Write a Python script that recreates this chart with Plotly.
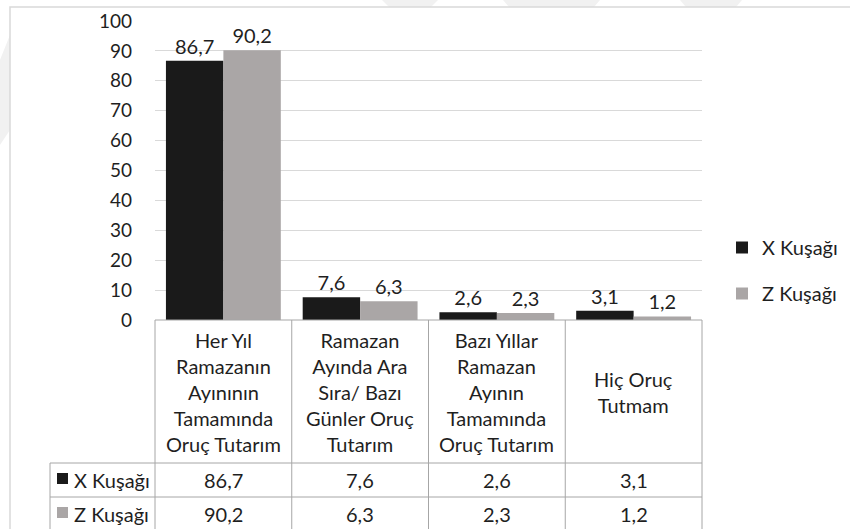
import plotly.graph_objects as go

# ---- data ----
categories = [
    "Her Yıl Ramazanın Ayınının Tamamında Oruç Tutarım",
    "Ramazan Ayında Ara Sıra/ Bazı Günler Oruç Tutarım",
    "Bazı Yıllar Ramazan Ayının Tamamında Oruç Tutarım",
    "Hiç Oruç Tutmam",
]
category_lines = [
    ["Her Yıl", "Ramazanın", "Ayınının", "Tamamında", "Oruç Tutarım"],
    ["Ramazan", "Ayında Ara", "Sıra/ Bazı", "Günler Oruç", "Tutarım"],
    ["Bazı Yıllar", "Ramazan", "Ayının", "Tamamında", "Oruç Tutarım"],
    ["Hiç Oruç", "Tutmam"],
]
series_names = ["X Kuşağı", "Z Kuşağı"]
x_kusagi = [86.7, 7.6, 2.6, 3.1]
z_kusagi = [90.2, 6.3, 2.3, 1.2]
y_ticks = [0, 10, 20, 30, 40, 50, 60, 70, 80, 90, 100]

# ---- style ----
FONT = "Lato"
TXT = "#1f1f1f"
COLORS = ["#1a1a1a", "#aaa6a6"]
GRID = "#d9d9d9"
TABLE_LINE = "#a6a6a6"
FS = 19
TFS = 20

W, H = 850, 529
L, R, T, B = 155, 148, 21, 209
plot_h = H - T - B
plot_w = W - L - R


def py(pix):  # pixel row -> paper y
    return (H - B - pix) / plot_h


def px(pix):  # pixel column -> paper x
    return (pix - L) / plot_w


fig = go.Figure()
for name, vals, col in zip(series_names, [x_kusagi, z_kusagi], COLORS):
    fig.add_trace(go.Bar(
        x=categories, y=vals, name=name, marker=dict(color=col, line=dict(width=0)),
        texttemplate="%{y:.1f}", textposition="outside", cliponaxis=False,
        textfont=dict(family=FONT, size=TFS, color=TXT), legendgroup=name,
    ))

shapes = []
annotations = []

# faint background watermark pieces (outside the chart frame)
WM = "#f1f1f1"
for pts in [[(382, 0), (438, 0), (431, 7), (389, 7)],
            [(503, 0), (600, 0), (594, 7), (509, 7)],
            [(680, 0), (742, 0), (736, 7), (686, 7)],
            [(0, 60), (10, 35), (10, 130), (0, 145)]]:
    path = "M " + " L ".join(f"{px(a):.4f},{py(b):.4f}" for a, b in pts) + " Z"
    shapes.append(dict(type="path", xref="paper", yref="paper", path=path,
                       fillcolor=WM, line=dict(width=0), layer="below"))

# outer chart border
shapes.append(dict(type="rect", xref="paper", yref="paper",
                   x0=px(10), x1=px(900), y0=py(600), y1=py(7),
                   line=dict(color="#d9d9d9", width=1.5), layer="below"))

# table geometry
n = len(categories)
rng = (-0.5, n - 0.5)
bounds = [(i - 0.5 - rng[0]) / (rng[1] - rng[0]) for i in range(n + 1)]
y_head_bot = py(463)
y_row1_bot = py(497)
y_row2_bot = py(531)
x_label_left = px(50)

# header top line (axis line)
shapes.append(dict(type="line", xref="paper", yref="paper", x0=0, x1=1, y0=0, y1=0,
                   line=dict(color=TABLE_LINE, width=1)))
# vertical lines
for b in bounds:
    shapes.append(dict(type="line", xref="paper", yref="paper", x0=b, x1=b,
                       y0=0, y1=y_row2_bot, line=dict(color=TABLE_LINE, width=1)))
shapes.append(dict(type="line", xref="paper", yref="paper", x0=x_label_left, x1=x_label_left,
                   y0=y_head_bot, y1=y_row2_bot, line=dict(color=TABLE_LINE, width=1)))
# horizontal lines
for yy in [y_head_bot, y_row1_bot, y_row2_bot]:
    shapes.append(dict(type="line", xref="paper", yref="paper", x0=x_label_left, x1=1,
                       y0=yy, y1=yy, line=dict(color=TABLE_LINE, width=1)))

# header texts
for cat, lines in zip(categories, category_lines):
    annotations.append(dict(x=cat, xref="x", yref="paper", y=(0 + y_head_bot) / 2,
                            text="<br>".join(lines), showarrow=False, align="center",
                            xanchor="center", yanchor="middle",
                            font=dict(family=FONT, size=TFS, color=TXT)))

# data rows
row_centers = [(y_head_bot + y_row1_bot) / 2, (y_row1_bot + y_row2_bot) / 2]
key_half = 5.5 / plot_h
for name, vals, col, yc in zip(series_names, [x_kusagi, z_kusagi], COLORS, row_centers):
    kc = yc + 1.5 / plot_h
    shapes.append(dict(type="rect", xref="paper", yref="paper",
                       x0=px(57), x1=px(68), y0=kc - key_half, y1=kc + key_half,
                       fillcolor=col, line=dict(width=0)))
    annotations.append(dict(x=px(72), xref="paper", yref="paper", y=yc,
                            text=name, showarrow=False, xanchor="left", yanchor="middle",
                            font=dict(family=FONT, size=TFS, color=TXT)))
    for cat, v in zip(categories, vals):
        annotations.append(dict(x=cat, xref="x", yref="paper", y=yc,
                                text=f"{v:.1f}".replace(".", ","), showarrow=False,
                                xanchor="center", yanchor="middle",
                                font=dict(family=FONT, size=TFS, color=TXT)))

fig.update_layout(
    width=W, height=H,
    margin=dict(l=L, r=R, t=T, b=B, autoexpand=False),
    paper_bgcolor="white", plot_bgcolor="white",
    separators=",.",
    barmode="group", bargap=0.16, bargroupgap=0,
    font=dict(family=FONT, size=FS, color=TXT),
    xaxis=dict(showticklabels=False, showgrid=False, zeroline=False, showline=False,
               range=list(rng), ticks=""),
    yaxis=dict(range=[0, 100], tickvals=y_ticks, showgrid=True, gridcolor=GRID, gridwidth=1,
               zeroline=False, showline=False, ticks="", ticklabelstandoff=22,
               tickfont=dict(family=FONT, size=FS, color=TXT)),
    legend=dict(x=px(722), y=py(228), xanchor="left", yanchor="top",
                font=dict(family=FONT, size=TFS, color=TXT),
                tracegroupgap=17, itemwidth=30, bgcolor="rgba(0,0,0,0)"),
    shapes=shapes, annotations=annotations, showlegend=True,
)

fig.write_html("out.html", config={"displayModeBar": False},
               post_script="document.body.style.margin='0';")
